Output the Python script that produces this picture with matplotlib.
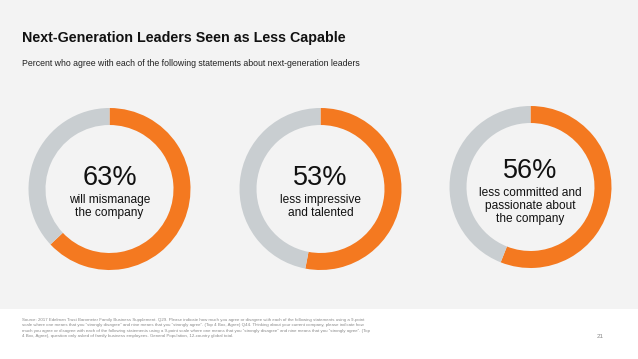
import matplotlib
matplotlib.use("Agg")
import matplotlib.pyplot as plt
from matplotlib.patches import Rectangle

plt.rcParams['font.family'] = ['Liberation Sans', 'DejaVu Sans']

title = "Next-Generation Leaders Seen as Less Capable"
subtitle = "Percent who agree with each of the following statements about next-generation leaders"
percents = [63, 53, 56]
labels = ["will mismanage\nthe company",
          "less impressive\nand talented",
          "less committed and\npassionate about\nthe company"]
footer = ("Source: 2017 Edelman Trust Barometer Family Business Supplement. Q29. Please indicate how much you agree or disagree with each of the following statements using a 9-point\n"
          "scale where one means that you \u201cstrongly disagree\u201d and nine means that you \u201cstrongly agree\u201d. (Top 4 Box, Agree) Q44. Thinking about your current company, please indicate how\n"
          "much you agree or disagree with each of the following statements using a 9-point scale where one means that you \u201cstrongly disagree\u201d and nine means that you \u201cstrongly agree\u201d. (Top\n"
          "4 Box, Agree), question only asked of family business employees. General Population, 12-country global total.")
page = "21"

ORANGE = "#F47920"
GREY = "#C9CED1"
BG = "#F3F3F3"

W, H = 638, 359
fig = plt.figure(figsize=(W/100, H/100), dpi=100, facecolor=BG)
fig.patches.append(Rectangle((0, 0), 1, (H-309)/H, transform=fig.transFigure,
                             facecolor="white", edgecolor="none", zorder=0))

fig.text(22/W, 1-38/H, title, fontsize=10.3, fontweight="bold", color="#111111", va="center", ha="left")
fig.text(22/W, 1-64/H, subtitle, fontsize=6.3, color="#222222", va="center", ha="left")
fig.text(22/W, 1-328/H, footer, fontsize=3.15, color="#8a8a8a", va="center", ha="left", linespacing=1.5)
fig.text(597/W, 1-337/H, page, fontsize=4.5, color="#8a8a8a", va="center", ha="left")

centers = [(109.5, 189), (320.5, 189), (530.5, 187)]
R = 81
for (cx, cy), p, lab in zip(centers, percents, labels):
    ax = fig.add_axes([(cx-R)/W, (H-cy-R)/H, 2*R/W, 2*R/H])
    ax.pie([p, 100-p], colors=[ORANGE, GREY], startangle=90, counterclock=False,
           radius=1, wedgeprops=dict(width=0.21, edgecolor="none"))
    ax.set_xlim(-1, 1); ax.set_ylim(-1, 1)
    ax.set_aspect("equal")
    ax.axis("off")
    nlines = lab.count("\n") + 1
    if nlines == 2:
        ax.text(0, 0.13, f"{p}%", fontsize=19.5, ha="center", va="center", color="#111111")
        ax.text(0, -0.06, lab, fontsize=8.6, ha="center", va="top", color="#111111", linespacing=1.1)
    else:
        ax.text(0, 0.2, f"{p}%", fontsize=19.5, ha="center", va="center", color="#111111")
        ax.text(0, 0.0, lab, fontsize=8.6, ha="center", va="top", color="#111111", linespacing=1.1)

fig.savefig("out.png", dpi=100, facecolor=BG)
